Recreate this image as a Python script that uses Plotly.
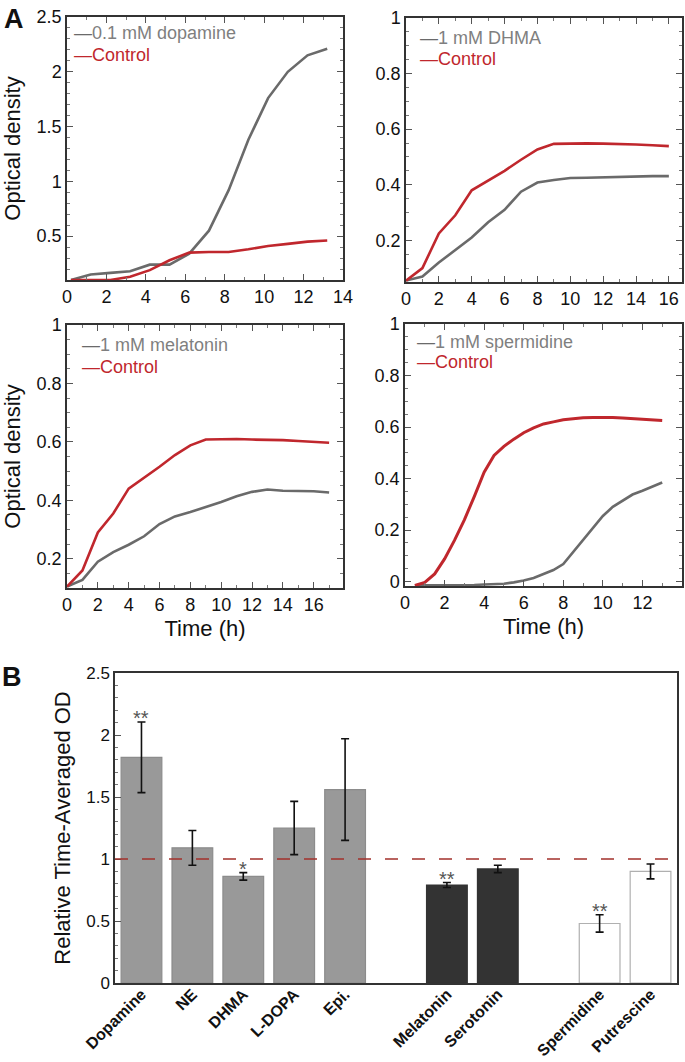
import plotly.graph_objects as go

W, H = 685, 1062

# ---------------- Panel A data ----------------
# A1: 0.1 mM dopamine
dop_time = [0.2, 1.2, 2.2, 3.2, 4.2, 5.2, 6.2, 7.2, 8.2, 9.2, 10.2, 11.2, 12.2, 13.2]
dop_treat = [0.10, 0.15, 0.165, 0.18, 0.24, 0.24, 0.34, 0.55, 0.92, 1.38, 1.76, 2.00, 2.15, 2.21]
dop_ctrl = [0.10, 0.10, 0.10, 0.13, 0.19, 0.28, 0.35, 0.355, 0.355, 0.38, 0.41, 0.43, 0.45, 0.46]

# A2: 1 mM DHMA
dhma_time = [0, 1, 2, 3, 4, 5, 6, 7, 8, 9, 10, 11, 12, 13, 14, 15, 16]
dhma_treat = [0.055, 0.07, 0.12, 0.165, 0.21, 0.265, 0.31, 0.375, 0.408, 0.417, 0.424,
              0.425, 0.427, 0.429, 0.43, 0.431, 0.431]
dhma_ctrl = [0.055, 0.10, 0.225, 0.29, 0.38, 0.415, 0.45, 0.49, 0.527, 0.547, 0.549,
             0.549, 0.548, 0.547, 0.545, 0.542, 0.539]

# A3: 1 mM melatonin
mel_time = [0, 1, 2, 3, 4, 5, 6, 7, 8, 9, 10, 11, 12, 13, 14, 15, 16, 17]
mel_treat = [0.105, 0.128, 0.19, 0.223, 0.248, 0.277, 0.319, 0.345, 0.36, 0.376, 0.394,
             0.414, 0.429, 0.437, 0.433, 0.432, 0.431, 0.427]
mel_ctrl = [0.105, 0.16, 0.29, 0.355, 0.44, 0.477, 0.515, 0.555, 0.588, 0.608, 0.61,
            0.61, 0.608, 0.608, 0.606, 0.603, 0.600, 0.597]

# A4: 1 mM spermidine
spd_time = [0.5, 1.0, 1.5, 2.0, 2.5, 3.0, 3.5, 4.0, 4.5, 5.0, 5.5, 6.0, 6.5, 7.0, 7.5,
            8.0, 8.5, 9.0, 9.5, 10.0, 10.5, 11.0, 11.5, 12.0, 12.5, 13.0]
spd_treat = [-0.014, -0.014, -0.014, -0.014, -0.014, -0.014, -0.013, -0.011, -0.010, -0.008,
             -0.003, 0.004, 0.014, 0.028, 0.045, 0.068, 0.115, 0.165, 0.21, 0.255, 0.29,
             0.315, 0.338, 0.353, 0.37, 0.385]
spd_ctrl = [-0.015, -0.003, 0.03, 0.088, 0.16, 0.24, 0.33, 0.425, 0.49, 0.525, 0.553, 0.578,
            0.597, 0.612, 0.62, 0.628, 0.632, 0.636, 0.637, 0.638, 0.637, 0.635, 0.633,
            0.631, 0.628, 0.625]

treat_names = ["0.1 mM dopamine", "1 mM DHMA", "1 mM melatonin", "1 mM spermidine"]
ctrl_name = "Control"

# ---------------- Panel B data ----------------
bar_labels = ["Dopamine", "NE", "DHMA", "L-DOPA", "Epi.", "Melatonin", "Serotonin",
              "Spermidine", "Putrescine"]
bar_values = [1.82, 1.09, 0.86, 1.25, 1.56, 0.79, 0.92, 0.48, 0.90]
bar_errors = [0.285, 0.14, 0.03, 0.215, 0.41, 0.02, 0.03, 0.07, 0.06]
bar_groups = [0, 0, 0, 0, 0, 1, 1, 2, 2]
bar_signif = ["**", "", "*", "", "", "**", "", "**", ""]
control_level = 1.0

# ---------------- styles ----------------
FONT = "Liberation Sans, Arial, sans-serif"
GRAY = "#6a6a6a"
GRAY_TXT = "#7f7f7f"
RED = "#c0272d"
group_fill = ["#999999", "#333333", "#ffffff"]
group_line = ["#8c8c8c", "#333333", "#b0b0b0"]


def xdom(x0, x1):
    return [x0 / W, x1 / W]


def ydom(y0, y1):
    return [1 - y1 / H, 1 - y0 / H]


axis_common = dict(
    showline=True, linecolor="#333333", linewidth=1.5, mirror="ticks",
    ticks="inside", ticklen=6, tickwidth=1, tickcolor="#555555",
    showgrid=False, zeroline=False, automargin=False,
    tickfont=dict(family=FONT, size=18, color="#111111"),
)

fig = go.Figure()

panels = [
    (dop_time, dop_treat, dop_ctrl, "x", "y"),
    (dhma_time, dhma_treat, dhma_ctrl, "x2", "y2"),
    (mel_time, mel_treat, mel_ctrl, "x3", "y3"),
    (spd_time, spd_treat, spd_ctrl, "x4", "y4"),
]
for i, (t, tr, ct, xa, ya) in enumerate(panels):
    fig.add_trace(go.Scatter(x=t, y=tr, mode="lines", name=treat_names[i],
                             line=dict(color=GRAY, width=2.6), xaxis=xa, yaxis=ya,
                             showlegend=False))
    fig.add_trace(go.Scatter(x=t, y=ct, mode="lines", name=ctrl_name,
                             line=dict(color=RED, width=2.6 if i < 3 else 3), xaxis=xa, yaxis=ya,
                             showlegend=False))

# Bars
positions = [i + g for i, g in enumerate(bar_groups)]
fig.add_trace(go.Bar(
    x=positions, y=bar_values, width=0.8,
    marker=dict(color=[group_fill[g] for g in bar_groups],
                line=dict(color=[group_line[g] for g in bar_groups], width=1.2)),
    error_y=dict(type="data", array=bar_errors, color="#111111", thickness=1.6, width=4),
    xaxis="x5", yaxis="y5", showlegend=False,
))

layout = dict(
    width=W, height=H, margin=dict(l=0, r=0, t=0, b=0),
    paper_bgcolor="white", plot_bgcolor="white",
    font=dict(family=FONT, color="#111111"),
    xaxis=dict(axis_common, domain=xdom(67, 343), range=[0, 14], dtick=2, tick0=0,
               minor=dict(ticks="inside", ticklen=3, dtick=1, tickcolor="#777")),
    yaxis=dict(axis_common, domain=ydom(17, 280), range=[0.1, 2.5], dtick=0.5, tick0=0,
               minor=dict(ticks="inside", ticklen=3, dtick=0.1, tickcolor="#777"),
               title=dict(text="Optical density", font=dict(size=22), standoff=14)),
    xaxis2=dict(axis_common, domain=xdom(406, 682), range=[0, 16.8], dtick=2, tick0=0,
                anchor="y2",
                minor=dict(ticks="inside", ticklen=3, dtick=1, tickcolor="#777")),
    yaxis2=dict(axis_common, domain=ydom(18, 282), range=[0.05, 1.0], dtick=0.2, tick0=0,
                anchor="x2",
                minor=dict(ticks="inside", ticklen=3, dtick=0.05, tickcolor="#777")),
    xaxis3=dict(axis_common, domain=xdom(67, 343), range=[0, 17.9], dtick=2, tick0=0,
                anchor="y3",
                minor=dict(ticks="inside", ticklen=3, dtick=1, tickcolor="#777"),
                title=dict(text="Time (h)", font=dict(size=22), standoff=6)),
    yaxis3=dict(axis_common, domain=ydom(325, 588), range=[0.1, 1.0], dtick=0.2, tick0=0,
                anchor="x3",
                minor=dict(ticks="inside", ticklen=3, dtick=0.05, tickcolor="#777"),
                title=dict(text="Optical density", font=dict(size=22), standoff=14)),
    xaxis4=dict(axis_common, domain=xdom(405, 682), range=[0, 14], dtick=2, tick0=0,
                anchor="y4",
                minor=dict(ticks="inside", ticklen=3, dtick=1, tickcolor="#777"),
                title=dict(text="Time (h)", font=dict(size=22), standoff=6)),
    yaxis4=dict(axis_common, domain=ydom(324, 586), range=[-0.017, 1.0], dtick=0.2, tick0=0,
                anchor="x4",
                minor=dict(ticks="inside", ticklen=3, dtick=0.05, tickcolor="#777")),
    xaxis5=dict(showline=True, linecolor="#333333", linewidth=1.5, mirror=True,
                showgrid=False, zeroline=False, automargin=False,
                domain=xdom(115, 677), range=[-0.52, 10.52], anchor="y5",
                tickvals=positions, ticktext=bar_labels, tickangle=-45, ticks="",
                ticklabelstandoff=-6,
                tickfont=dict(family=FONT, size=16, color="#111111", weight="bold")),
    yaxis5=dict(showline=True, linecolor="#333333", linewidth=1.5, mirror=True,
                showgrid=False, zeroline=False, automargin=False,
                domain=ydom(673, 983), range=[0, 2.5], dtick=0.5, tick0=0, anchor="x5",
                ticks="inside", ticklen=6, tickcolor="#555555",
                minor=dict(ticks="inside", ticklen=3, dtick=0.1, tickcolor="#777"),
                tickfont=dict(family=FONT, size=17, color="#111111"),
                title=dict(text="Relative Time-Averaged OD", font=dict(size=22), standoff=10)),
)
fig.update_layout(**layout)

# reference line at control level
fig.add_shape(type="line", xref="x5 domain", yref="y5", x0=0, x1=1,
              y0=control_level, y1=control_level,
              line=dict(color="#a3312b", width=1.5, dash="13px,14px"))

annotations = []
# legends drawn as colored text inside each panel
legend_pos = [(72, 33, 55), (418, 38, 59), (80, 345, 367), (415, 342, 362)]
for name, (lx, ly1, ly2) in zip(treat_names, legend_pos):
    annotations.append(dict(xref="paper", yref="paper", x=lx / W, y=1 - ly1 / H,
                            xanchor="left", yanchor="middle", showarrow=False,
                            text=f"<span style='color:{GRAY}'>—</span>{name}",
                            font=dict(size=18, color=GRAY_TXT, family=FONT)))
    annotations.append(dict(xref="paper", yref="paper", x=lx / W, y=1 - ly2 / H,
                            xanchor="left", yanchor="middle", showarrow=False,
                            text=f"—{ctrl_name}",
                            font=dict(size=18, color=RED, family=FONT)))

# significance markers
for p, v, e, s in zip(positions, bar_values, bar_errors, bar_signif):
    if s:
        annotations.append(dict(xref="x5", yref="y5", x=p, y=v + e, yanchor="bottom",
                                showarrow=False, text=s, yshift=-9,
                                font=dict(size=20, color="#555555", family=FONT)))

# panel labels
annotations.append(dict(xref="paper", yref="paper", x=2 / W, y=1 - 2 / H, xanchor="left",
                        yanchor="top", showarrow=False, text="<b>A</b>",
                        font=dict(size=27, color="#111111", family=FONT)))
annotations.append(dict(xref="paper", yref="paper", x=0 / W, y=1 - 660 / H, xanchor="left",
                        yanchor="top", showarrow=False, text="<b>B</b>",
                        font=dict(size=27, color="#111111", family=FONT)))

fig.update_layout(annotations=annotations)

fig.write_html("out.html", config={"displayModeBar": False},
               post_script="document.body.style.margin='0';"
                           "document.body.style.overflow='hidden';")
